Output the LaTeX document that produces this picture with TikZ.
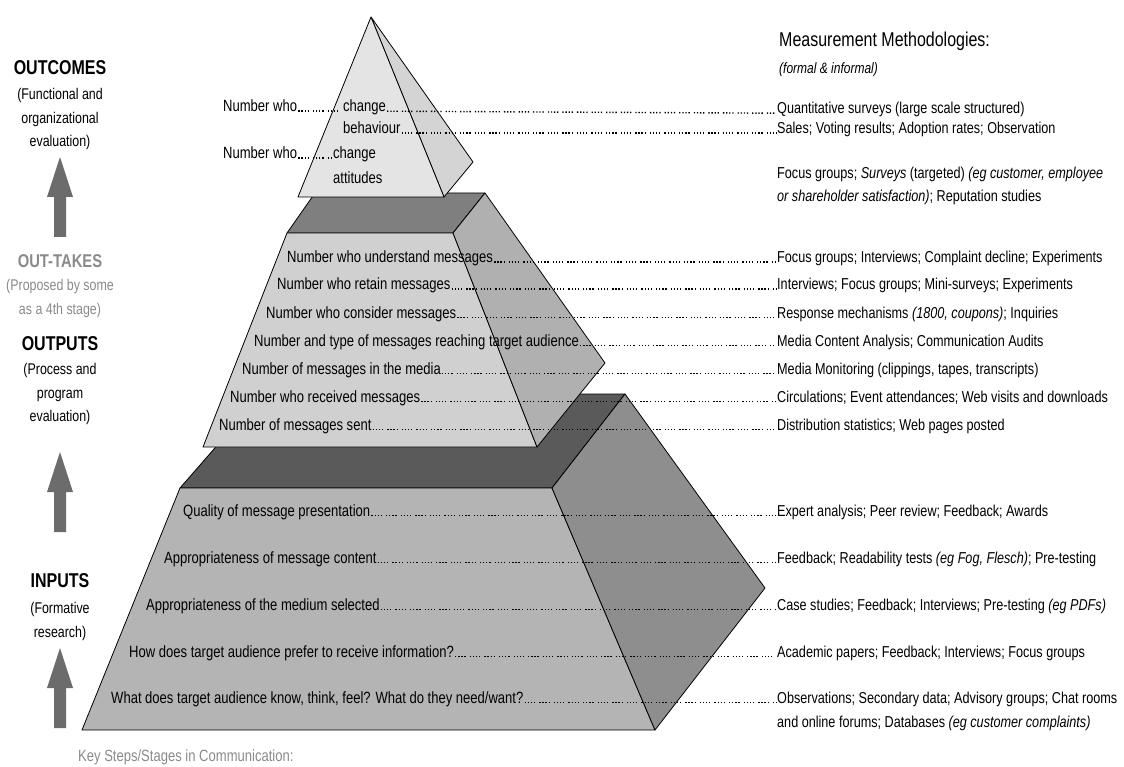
\documentclass[tikz,border=0pt]{standalone}
\usepackage{fontspec}
\setmainfont{Liberation Sans}[FakeStretch=0.8]
\usetikzlibrary{positioning}

\definecolor{topFront}{HTML}{E4E4E4}
\definecolor{topSide}{HTML}{D4D4D4}
\definecolor{midTop}{HTML}{7F7F7F}
\definecolor{midFront}{HTML}{D0D0D0}
\definecolor{midSide}{HTML}{B0B0B0}
\definecolor{botTop}{HTML}{5A5A5A}
\definecolor{botFront}{HTML}{B4B4B4}
\definecolor{botSide}{HTML}{8E8E8E}
\definecolor{arrowGray}{HTML}{6C6C6C}
\definecolor{noteGray}{HTML}{8A8A8A}

\begin{document}
\begin{tikzpicture}[x=1pt,y=-1pt,
    every node/.style={font=\fontsize{16.3}{22}\selectfont, inner sep=1pt},
    face/.style={draw=black, line width=0.8pt, line join=round},
    stage/.style={font=\fontsize{20}{22}\selectfont\bfseries},
    stagenote/.style={align=center, font=\fontsize{15.5}{23.5}\selectfont},
    item/.style={anchor=base west},
    method/.style={anchor=base west, font=\fontsize{15.8}{22}\selectfont},
    leader/.style={line width=1.4pt, dash pattern=on 1.3pt off 1.8pt on 1.3pt off 1.8pt on 1.3pt off 1.8pt on 1.3pt off 4pt}]
  \useasboundingbox (0,0) rectangle (1124,767);

  % bottom tier
  \filldraw[face, fill=botTop] (180,488) -- (552,488) -- (625,394) -- (262,394) -- cycle;
  \filldraw[face, fill=botFront] (180,488) -- (552,488) -- (655,730) -- (82,730) -- cycle;
  \filldraw[face, fill=botSide] (552,488) -- (625,394) -- (765,588) -- (655,730) -- cycle;
  % middle tier
  \filldraw[face, fill=midTop] (287,233) -- (453,233) -- (485,193) -- (315,193) -- cycle;
  \filldraw[face, fill=midFront] (287,233) -- (453,233) -- (537,447) -- (203,447) -- cycle;
  \filldraw[face, fill=midSide] (453,233) -- (485,193) -- (605,363) -- (537,447) -- cycle;
  % top tier
  \filldraw[face, fill=topSide] (371,17) -- (473,162) -- (444,197) -- cycle;
  \filldraw[face, fill=topFront] (371,17) -- (444,197) -- (298,197) -- cycle;

  % arrows on the left
  \foreach \ty in {157,452,648}
    \fill[arrowGray] (54,\ty+80) -- (54,\ty+40) -- (47,\ty+40) -- (60,\ty)
      -- (73,\ty+40) -- (66,\ty+40) -- (66,\ty+80) -- cycle;

  % stages
  \node[stage, anchor=base] (outcomes) at (60,75) {OUTCOMES};
  \node[stagenote, below=11pt of outcomes] {(Functional and\\organizational\\evaluation)};
  \node[stage, anchor=base, noteGray, font=\fontsize{18.5}{20}\selectfont\bfseries] (outtakes) at (60,268) {OUT-TAKES};
  \node[stagenote, noteGray, below=9pt of outtakes] {(Proposed by some\\as a 4th stage)};
  \node[stage, anchor=base] (outputs) at (60,350) {OUTPUTS};
  \node[stagenote, below=11pt of outputs] {(Process and\\program\\evaluation)};
  \node[stage, anchor=base] (inputs) at (60,587) {INPUTS};
  \node[stagenote, below=13pt of inputs] {(Formative\\research)};
  \node[item, noteGray] (keysteps) at (77,761) {Key Steps/Stages in Communication:};

  % methods heading
  \node[item, font=\fontsize{20}{22}\selectfont] (methods) at (778,47) {Measurement Methodologies:};
  \node[item, font=\fontsize{15}{17}\selectfont\itshape] (formal) at (778,74) {(formal \& informal)};

  % top tier items
  \node[item] (nw1) at (222,112) {Number who};
  \node[item] (ch1) at (342,112) {change};
  \node[item] (bh) at (342,134) {behaviour};
  \node[item] (nw2) at (222,159) {Number who};
  \node[item] (ch2) at (332,159) {change};
  \node[item] (att) at (332,184) {attitudes};

  % middle tier items
  \node[item] (u1) at (286,263) {Number who understand messages};
  \node[item] (u2) at (276,290) {Number who retain messages};
  \node[item] (u3) at (265,318) {Number who consider messages};
  \node[item] (u4) at (253,346) {Number and type of messages reaching target audience};
  \node[item] (u5) at (241,374) {Number of messages in the media};
  \node[item] (u6) at (229,402) {Number who received messages};
  \node[item] (u7) at (218,430) {Number of messages sent};

  % bottom tier items
  \node[item] (b1) at (182,516) {Quality of message presentation};
  \node[item] (b2) at (163,563) {Appropriateness of message content};
  \node[item] (b3) at (145,610) {Appropriateness of the medium selected};
  \node[item] (b4) at (128,657) {How does target audience prefer to receive information?};
  \node[item] (b5) at (110,703) {What does target audience know, think, feel? What do they need/want?};

  % methods
  \node[method] (m1) at (776,114) {Quantitative surveys (large scale structured)};
  \node[method] (m2) at (776,134) {Sales; Voting results; Adoption rates; Observation};
  \node[method] (m3) at (776,179) {Focus groups; \textit{Surveys} (targeted) \textit{(eg customer, employee}};
  \node[method] (m3b) at (776,202) {\textit{or shareholder satisfaction)}; Reputation studies};
  \node[method] (m4) at (776,263) {Focus groups; Interviews; Complaint decline; Experiments};
  \node[method] (m5) at (776,290) {Interviews; Focus groups; Mini-surveys; Experiments};
  \node[method] (m6) at (776,318) {Response mechanisms \textit{(1800, coupons)}; Inquiries};
  \node[method] (m7) at (776,346) {Media Content Analysis; Communication Audits};
  \node[method] (m8) at (776,374) {Media Monitoring (clippings, tapes, transcripts)};
  \node[method] (m9) at (776,402) {Circulations; Event attendances; Web visits and downloads};
  \node[method] (m10) at (776,430) {Distribution statistics; Web pages posted};
  \node[method] (m11) at (776,516) {Expert analysis; Peer review; Feedback; Awards};
  \node[method] (m12) at (776,563) {Feedback; Readability tests \textit{(eg Fog, Flesch)}; Pre-testing};
  \node[method] (m13) at (776,610) {Case studies; Feedback; Interviews; Pre-testing \textit{(eg PDFs)}};
  \node[method] (m14) at (776,657) {Academic papers; Feedback; Interviews; Focus groups};
  \node[method] (m15) at (776,703) {Observations; Secondary data; Advisory groups; Chat rooms};
  \node[method] (m15b) at (776,727) {and online forums; Databases \textit{(eg customer complaints)}};

  % dotted leaders
  \foreach \a/\b in {nw1/ch1, ch1/m1, bh/m2, nw2/ch2, u1/m4, u2/m5, u3/m6, u4/m7, u5/m8,
      u6/m9, u7/m10, b1/m11, b2/m12, b3/m13, b4/m14, b5/m15}
    \draw[leader] ([yshift=.8pt]\a.base east) -- ([yshift=.8pt]\b.base west);
\end{tikzpicture}
\end{document}
